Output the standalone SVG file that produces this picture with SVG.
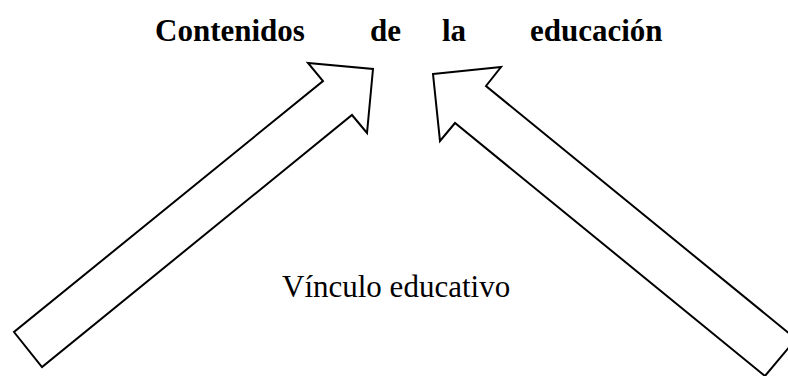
<svg xmlns="http://www.w3.org/2000/svg" width="788" height="376" viewBox="0 0 788 376">
<style>
.arrow{fill:#fff;stroke:#000;stroke-width:2;stroke-linejoin:miter}
.title{font-family:"Liberation Serif","Times New Roman",serif;font-weight:bold;font-size:31px;fill:#000}
.label{font-family:"Liberation Serif","Times New Roman",serif;font-size:31px;fill:#000}
</style>
<rect width="788" height="376" fill="#fff"/>
<g id="connectors">
<polygon id="arrow-left" class="arrow" points="373,69 367,133 352,115 42,367 14,332 323,81 308,63"/>
<polygon id="arrow-right" class="arrow" points="433,74 501,67 486,86 796,339 765,376 455,123 440,141"/>
</g>
<g id="node-title">
<text class="title" y="41"><tspan x="155">Contenidos</tspan><tspan x="370">de</tspan><tspan x="442">la</tspan><tspan x="530">educación</tspan></text>
</g>
<g id="node-vinculo">
<text class="label" x="282" y="297">Vínculo educativo</text>
</g>
</svg>
